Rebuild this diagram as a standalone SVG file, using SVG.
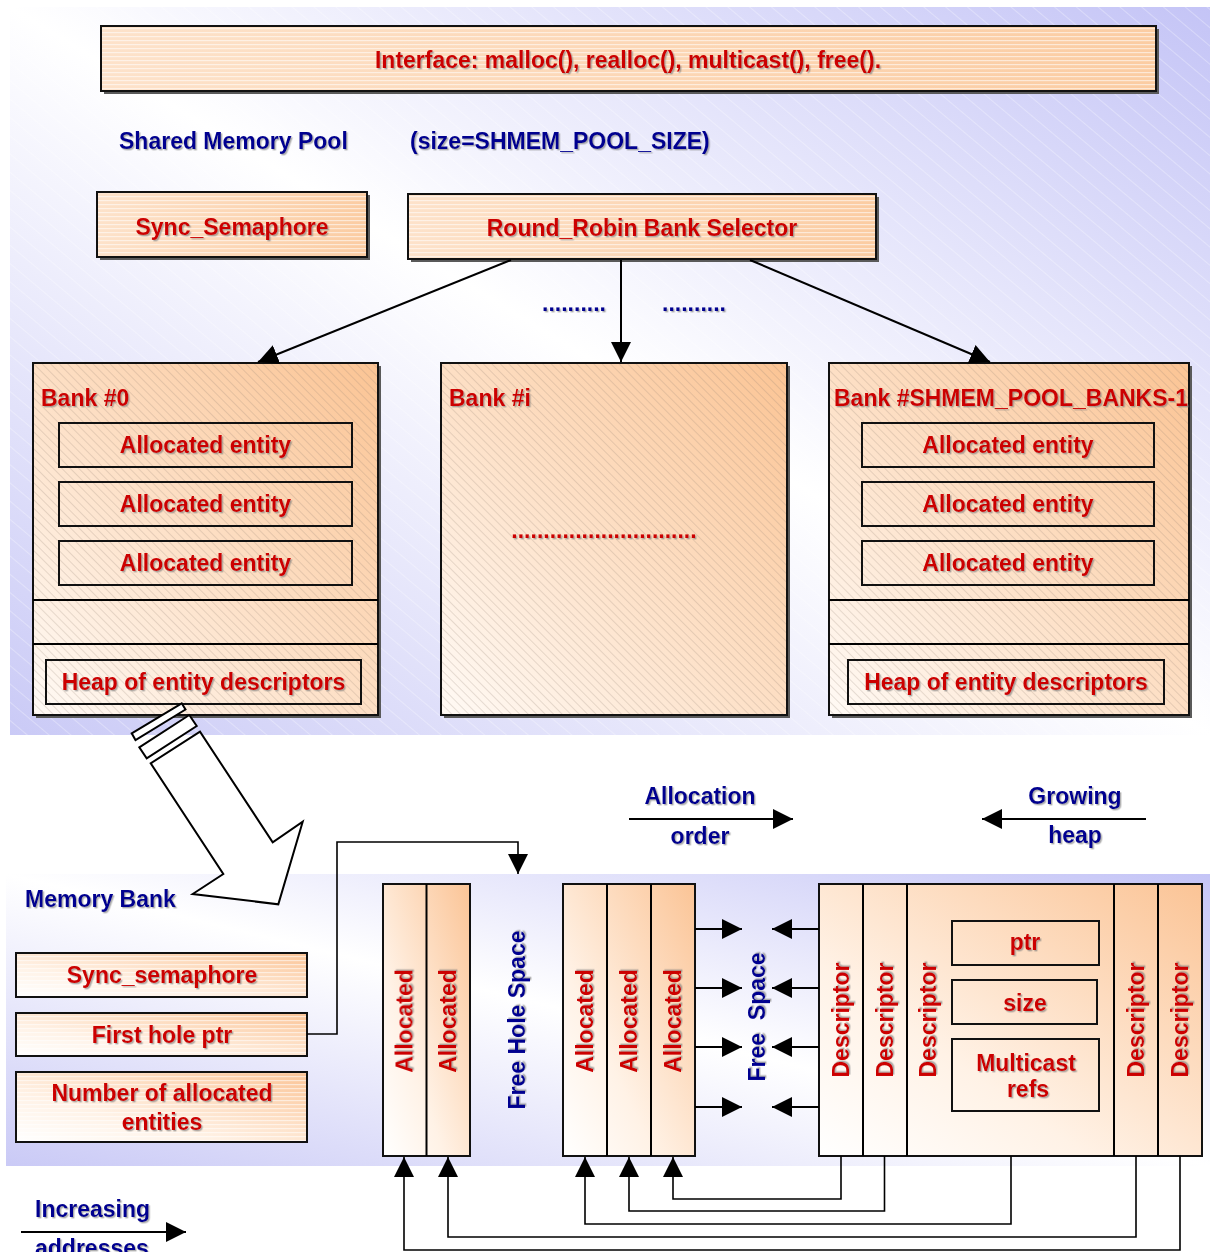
<svg xmlns="http://www.w3.org/2000/svg" width="1210" height="1252" viewBox="0 0 1210 1252">
  <defs>
    <linearGradient id="bgGrad" x1="1" y1="0" x2="0" y2="1">
      <stop offset="0" stop-color="#c4c4f6"/>
      <stop offset="0.5" stop-color="#ffffff"/>
      <stop offset="1" stop-color="#cacaf6"/>
    </linearGradient>
    <linearGradient id="peachDiag" x1="0" y1="1" x2="1" y2="0">
      <stop offset="0" stop-color="#fffaf5"/>
      <stop offset="1" stop-color="#fbc494"/>
    </linearGradient>
    <linearGradient id="peachBar" x1="0" y1="0" x2="1" y2="0">
      <stop offset="0" stop-color="#fde2ca"/>
      <stop offset="1" stop-color="#fbcca2"/>
    </linearGradient>
    <linearGradient id="peachCol" x1="0" y1="1" x2="1" y2="0">
      <stop offset="0" stop-color="#ffffff"/>
      <stop offset="0.35" stop-color="#fff2e6"/>
      <stop offset="1" stop-color="#fbc496"/>
    </linearGradient>
    <pattern id="hLines" width="4" height="4" patternUnits="userSpaceOnUse">
      <rect width="4" height="1.2" fill="#ffffff" opacity="0.55"/>
    </pattern>
    <pattern id="dLines" width="6" height="6" patternUnits="userSpaceOnUse" patternTransform="rotate(-45)">
      <rect width="0.8" height="6" fill="#8a7a70" opacity="0.28"/>
    </pattern>
    <pattern id="bgLines" width="14" height="14" patternUnits="userSpaceOnUse" patternTransform="rotate(-50)">
      <rect width="1" height="14" fill="#ffffff" opacity="0.5"/>
    </pattern>
    <filter id="txtShadow" x="-5%" y="-20%" width="110%" height="140%">
      <feDropShadow dx="1.4" dy="1.4" stdDeviation="0.3" flood-color="#7a7a7a" flood-opacity="0.6"/>
    </filter>
    <marker id="arrow" viewBox="0 0 20 20" refX="20" refY="10" markerWidth="20" markerHeight="20" markerUnits="userSpaceOnUse" orient="auto">
      <path d="M0,0 L20,10 L0,20 Z" fill="#000"/>
    </marker>
    <style>
      text { font-family: "Liberation Sans", Arial, sans-serif; font-weight: bold; font-size: 23px; filter: url(#txtShadow); }
      .red { fill: #cc0000; }
      .navy { fill: #000090; }
      .mid { text-anchor: middle; }
      .box { stroke: #111; stroke-width: 2; }
      .shadow { fill: #5a5a5a; }
      .line { fill: none; stroke: #000; stroke-width: 2; }
      .thin { fill: none; stroke: #000; stroke-width: 1.6; }
      .hollow { fill: #fff; stroke: #000; stroke-width: 2; stroke-linejoin: miter; }
    </style>
  </defs>

  <!-- background panels -->
  <rect x="10" y="7" width="1200" height="728" fill="url(#bgGrad)"/>
  <rect x="10" y="7" width="1200" height="728" fill="url(#bgLines)" opacity="0.6"/>
  <rect x="6" y="874" width="1204" height="292" fill="url(#bgGrad)"/>

  <!-- shared pool header -->
  <g id="interface">
    <rect class="shadow" x="104" y="29" width="1055" height="65"/>
    <rect x="101" y="26" width="1055" height="65" fill="url(#peachBar)"/>
    <rect x="101" y="26" width="1055" height="65" fill="url(#hLines)"/>
    <rect class="box" x="101" y="26" width="1055" height="65" fill="none"/>
    <text class="red mid" x="628" y="68">Interface: malloc(), realloc(), multicast(), free().</text>
  </g>

  <g id="pool-title">
    <text class="navy" x="119" y="149">Shared Memory Pool</text>
    <text class="navy" x="410" y="149">(size=SHMEM_POOL_SIZE)</text>
  </g>

  <g id="sync-semaphore">
    <rect class="shadow" x="100" y="195" width="270" height="65"/>
    <rect x="97" y="192" width="270" height="65" fill="url(#peachBar)"/>
    <rect x="97" y="192" width="270" height="65" fill="url(#hLines)"/>
    <rect class="box" x="97" y="192" width="270" height="65" fill="none"/>
    <text class="red mid" x="232" y="235">Sync_Semaphore</text>
  </g>

  <g id="bank-selector">
    <rect class="shadow" x="411" y="197" width="468" height="65"/>
    <rect x="408" y="194" width="468" height="65" fill="url(#peachBar)"/>
    <rect x="408" y="194" width="468" height="65" fill="url(#hLines)"/>
    <rect class="box" x="408" y="194" width="468" height="65" fill="none"/>
    <text class="red mid" x="642" y="236">Round_Robin Bank Selector</text>
  </g>

  <g id="selector-dots">
    <text class="navy mid" x="574" y="311">..........</text>
    <text class="navy mid" x="694" y="311">..........</text>
  </g>

  <!-- banks -->
  <g id="bank-0">
    <rect class="shadow" x="36" y="366" width="345" height="352"/>
    <rect x="33" y="363" width="345" height="352" fill="url(#peachDiag)"/>
    <rect x="33" y="363" width="345" height="352" fill="url(#dLines)"/>
    <rect class="box" x="33" y="363" width="345" height="352" fill="none"/>
    <path class="line" d="M33,600 H378 M33,644 H378"/>
    <text class="red" x="41" y="406">Bank #0</text>
    <rect class="box" x="59" y="423" width="293" height="44" fill="none"/>
    <text class="red mid" x="205.5" y="453">Allocated entity</text>
    <rect class="box" x="59" y="482" width="293" height="44" fill="none"/>
    <text class="red mid" x="205.5" y="512">Allocated entity</text>
    <rect class="box" x="59" y="541" width="293" height="44" fill="none"/>
    <text class="red mid" x="205.5" y="571">Allocated entity</text>
    <rect class="box" x="46" y="660" width="315" height="44" fill="none"/>
    <text class="red mid" x="203.5" y="690">Heap of entity descriptors</text>
  </g>

  <g id="bank-i">
    <rect class="shadow" x="444" y="366" width="346" height="352"/>
    <rect x="441" y="363" width="346" height="352" fill="url(#peachDiag)"/>
    <rect x="441" y="363" width="346" height="352" fill="url(#dLines)"/>
    <rect class="box" x="441" y="363" width="346" height="352" fill="none"/>
    <text class="red" x="449" y="406">Bank #i</text>
    <text class="red mid" x="604" y="538">.............................</text>
  </g>

  <g id="bank-last">
    <rect class="shadow" x="832" y="366" width="360" height="352"/>
    <rect x="829" y="363" width="360" height="352" fill="url(#peachDiag)"/>
    <rect x="829" y="363" width="360" height="352" fill="url(#dLines)"/>
    <rect class="box" x="829" y="363" width="360" height="352" fill="none"/>
    <path class="line" d="M829,600 H1189 M829,644 H1189"/>
    <text class="red" x="834" y="406">Bank #SHMEM_POOL_BANKS-1</text>
    <rect class="box" x="862" y="423" width="292" height="44" fill="none"/>
    <text class="red mid" x="1008" y="453">Allocated entity</text>
    <rect class="box" x="862" y="482" width="292" height="44" fill="none"/>
    <text class="red mid" x="1008" y="512">Allocated entity</text>
    <rect class="box" x="862" y="541" width="292" height="44" fill="none"/>
    <text class="red mid" x="1008" y="571">Allocated entity</text>
    <rect class="box" x="848" y="660" width="316" height="44" fill="none"/>
    <text class="red mid" x="1006" y="690">Heap of entity descriptors</text>
  </g>

  <!-- zoom-in arrow from bank #0 to the memory bank detail -->
  <g id="zoom-arrow">
    <polygon class="hollow" points="131.7,733.3 181.7,703.3 185.5,709.5 135.5,740"/>
    <polygon class="hollow" points="139.3,747.3 189.3,715 196.7,726 146.7,758.3"/>
    <polygon class="hollow" points="150.7,763.3 200,731.7 272.7,842.3 302.7,821.7 278.3,904.3 192.7,894 223.3,874"/>
  </g>

  <!-- direction legends -->
  <g id="allocation-order">
    <text class="navy mid" x="700" y="804">Allocation</text>
    <text class="navy mid" x="700" y="844">order</text>
  </g>
  <g id="growing-heap">
    <text class="navy mid" x="1075" y="804">Growing</text>
    <text class="navy mid" x="1075" y="843">heap</text>
  </g>
  <g id="increasing-addresses">
    <text class="navy" x="35" y="1217">Increasing</text>
    <text class="navy" x="35" y="1256">addresses</text>
  </g>

  <!-- memory bank detail -->
  <g id="memory-bank-title">
    <text class="navy" x="25" y="907">Memory Bank</text>
  </g>

  <g id="bank-sync">
    <rect x="16" y="953" width="291" height="44" fill="url(#peachCol)"/>
    <rect x="16" y="953" width="291" height="44" fill="url(#hLines)"/>
    <rect class="box" x="16" y="953" width="291" height="44" fill="none"/>
    <text class="red mid" x="162" y="983">Sync_semaphore</text>
  </g>
  <g id="first-hole">
    <rect x="16" y="1013" width="291" height="43" fill="url(#peachCol)"/>
    <rect x="16" y="1013" width="291" height="43" fill="url(#hLines)"/>
    <rect class="box" x="16" y="1013" width="291" height="43" fill="none"/>
    <text class="red mid" x="162" y="1043">First hole ptr</text>
  </g>
  <g id="alloc-count">
    <rect x="16" y="1072" width="291" height="70" fill="url(#peachCol)"/>
    <rect x="16" y="1072" width="291" height="70" fill="url(#hLines)"/>
    <rect class="box" x="16" y="1072" width="291" height="70" fill="none"/>
    <text class="red mid" x="162" y="1101">Number of allocated</text>
    <text class="red mid" x="162" y="1130">entities</text>
  </g>

  <g id="allocated-block-1">
    <rect x="383" y="884" width="87" height="272" fill="url(#peachCol)"/>
    <rect class="box" x="383" y="884" width="87" height="272" fill="none"/>
    <path class="line" d="M426.5,884 V1156"/>
    <text class="red mid" transform="translate(412.5,1021) rotate(-90)">Allocated</text>
    <text class="red mid" transform="translate(456,1021) rotate(-90)">Allocated</text>
  </g>

  <g id="free-hole">
    <text class="navy mid" transform="translate(525,1020) rotate(-90)">Free Hole Space</text>
  </g>

  <g id="allocated-block-2">
    <rect x="563" y="884" width="132" height="272" fill="url(#peachCol)"/>
    <rect class="box" x="563" y="884" width="132" height="272" fill="none"/>
    <path class="line" d="M607,884 V1156 M651,884 V1156"/>
    <text class="red mid" transform="translate(593,1021) rotate(-90)">Allocated</text>
    <text class="red mid" transform="translate(637,1021) rotate(-90)">Allocated</text>
    <text class="red mid" transform="translate(681,1021) rotate(-90)">Allocated</text>
  </g>

  <g id="free-space">
    <text class="navy mid" transform="translate(765,1017) rotate(-90)" xml:space="preserve">Free  Space</text>
  </g>

  <g id="descriptor-heap">
    <rect x="819" y="884" width="383" height="272" fill="url(#peachCol)"/>
    <rect class="box" x="819" y="884" width="383" height="272" fill="none"/>
    <path class="line" d="M863,884 V1156 M907,884 V1156 M1114,884 V1156 M1158,884 V1156"/>
    <text class="red mid" transform="translate(849,1020) rotate(-90)">Descriptor</text>
    <text class="red mid" transform="translate(893,1020) rotate(-90)">Descriptor</text>
    <text class="red mid" transform="translate(936,1020) rotate(-90)">Descriptor</text>
    <text class="red mid" transform="translate(1144,1020) rotate(-90)">Descriptor</text>
    <text class="red mid" transform="translate(1188,1020) rotate(-90)">Descriptor</text>
    <rect class="box" x="952" y="921" width="147" height="44" fill="none"/>
    <text class="red mid" x="1025" y="950">ptr</text>
    <rect class="box" x="952" y="980" width="145" height="44" fill="none"/>
    <text class="red mid" x="1025" y="1011">size</text>
    <rect class="box" x="952" y="1039" width="147" height="72" fill="none"/>
    <text class="red mid" x="1026" y="1071">Multicast</text>
    <text class="red mid" x="1028" y="1097">refs</text>
  </g>

  <!-- connectors -->
  <g id="connectors">
    <path class="line" d="M511,260 L258,362" marker-end="url(#arrow)"/>
    <path class="line" d="M621,260 V362" marker-end="url(#arrow)"/>
    <path class="line" d="M750,260 L990,362" marker-end="url(#arrow)"/>

    <path class="line" d="M629,819 H793" marker-end="url(#arrow)"/>
    <path class="line" d="M1146,819 H982" marker-end="url(#arrow)"/>
    <path class="line" d="M21,1232 H186" marker-end="url(#arrow)"/>

    <path class="thin" d="M307,1034 H337 V842 H518 V874" marker-end="url(#arrow)"/>

    <path class="line" d="M695,929 H742" marker-end="url(#arrow)"/>
    <path class="line" d="M695,988 H742" marker-end="url(#arrow)"/>
    <path class="line" d="M695,1047 H742" marker-end="url(#arrow)"/>
    <path class="line" d="M695,1107 H742" marker-end="url(#arrow)"/>
    <path class="line" d="M819,929 H772" marker-end="url(#arrow)"/>
    <path class="line" d="M819,988 H772" marker-end="url(#arrow)"/>
    <path class="line" d="M819,1047 H772" marker-end="url(#arrow)"/>
    <path class="line" d="M819,1107 H772" marker-end="url(#arrow)"/>

    <path class="thin" d="M841,1156 V1199 H673 V1157" marker-end="url(#arrow)"/>
    <path class="thin" d="M884.5,1156 V1211 H629 V1157" marker-end="url(#arrow)"/>
    <path class="thin" d="M1011,1156 V1224 H585 V1157" marker-end="url(#arrow)"/>
    <path class="thin" d="M1136,1156 V1237 H448 V1157" marker-end="url(#arrow)"/>
    <path class="thin" d="M1180,1156 V1250 H404 V1157" marker-end="url(#arrow)"/>
  </g>
</svg>
